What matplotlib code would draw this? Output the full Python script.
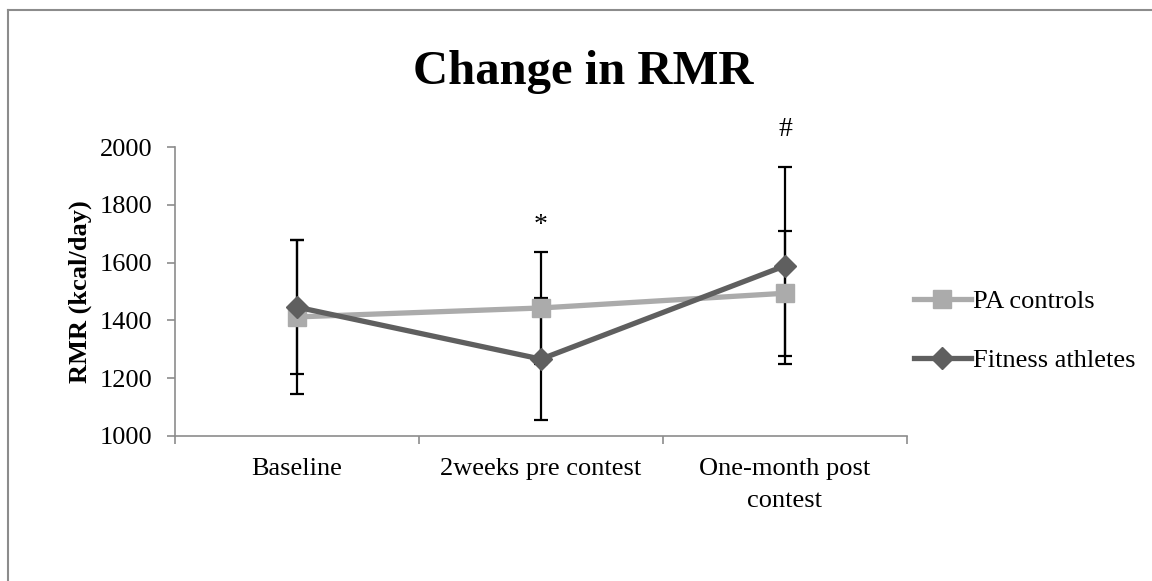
import matplotlib
matplotlib.use('Agg')
import matplotlib.pyplot as plt
from matplotlib.lines import Line2D

plt.rcParams['font.family'] = ['Liberation Serif', 'DejaVu Serif']

# data
timepoints = ['Baseline', '2weeks pre contest', 'One-month post\ncontest']
pa_controls = [1412, 1443, 1494]
pa_sd = [265, 195, 216]
fitness = [1446, 1266, 1589]
fitness_sd = [232, 212, 341]
sig_marks = ['', '*', '#']
sig_y = [0, 1730, 2060]

fig = plt.figure(figsize=(11.52, 5.81), dpi=100)
ax = fig.add_axes([175/1152, 1-436/581, 732/1152, 289/581])

x = list(range(len(timepoints)))
grey_axis = '#8c8c8c'

ax.errorbar(x, pa_controls, yerr=pa_sd, fmt='none', ecolor='black',
            elinewidth=1.6, capsize=5, capthick=1.6, zorder=2, clip_on=False)
ax.errorbar(x, fitness, yerr=fitness_sd, fmt='none', ecolor='black',
            elinewidth=1.6, capsize=5, capthick=1.6, zorder=2, clip_on=False)
ax.plot(x, pa_controls, color='#ababab', lw=3.8, marker='s', ms=13,
        label='PA controls', zorder=3, clip_on=False)
ax.plot(x, fitness, color='#5f5f5f', lw=3.8, marker='D', ms=11,
        label='Fitness athletes', zorder=4, clip_on=False)

for i, m in enumerate(sig_marks):
    if m:
        ax.text(x[i], sig_y[i], m, ha='center', va='center', fontsize=20)

ax.set_xlim(-0.5, len(timepoints) - 0.5)
ax.set_ylim(1000, 2000)
ax.set_yticks([1000, 1200, 1400, 1600, 1800, 2000])
ax.set_xticks(x)
ax.set_xticklabels(timepoints, fontsize=19, linespacing=1.55)
ax.set_xticks([i - 0.5 for i in range(len(timepoints) + 1)], minor=True)
ax.tick_params(axis='x', which='major', length=0, pad=16)
ax.tick_params(axis='x', which='minor', length=6, color=grey_axis, width=1.2)
ax.tick_params(axis='y', length=6, color=grey_axis, width=1.2, labelsize=19, pad=10)

for s in ['top', 'right']:
    ax.spines[s].set_visible(False)
for s in ['left', 'bottom']:
    ax.spines[s].set_color(grey_axis)
    ax.spines[s].set_linewidth(1.2)

ax.set_ylabel('RMR (kcal/day)', fontsize=19, fontweight='bold', labelpad=6)

fig.text(583/1152, 1-72/581, 'Change in RMR', ha='center', va='center',
         fontsize=35, fontweight='bold')

ax.legend(loc='center left', bbox_to_anchor=(914/1152, 1-331/581),
          bbox_transform=fig.transFigure, frameon=False, fontsize=19,
          handlelength=2.15, handletextpad=0.1, labelspacing=1.35,
          borderaxespad=0, borderpad=0)

# chart area frame
fig.add_artist(Line2D([8/1152, 1], [1-10/581, 1-10/581], color='#8c8c8c', lw=1.5))
fig.add_artist(Line2D([8/1152, 8/1152], [0, 1-10/581], color='#8c8c8c', lw=1.5))

fig.savefig('out.png', dpi=100)
